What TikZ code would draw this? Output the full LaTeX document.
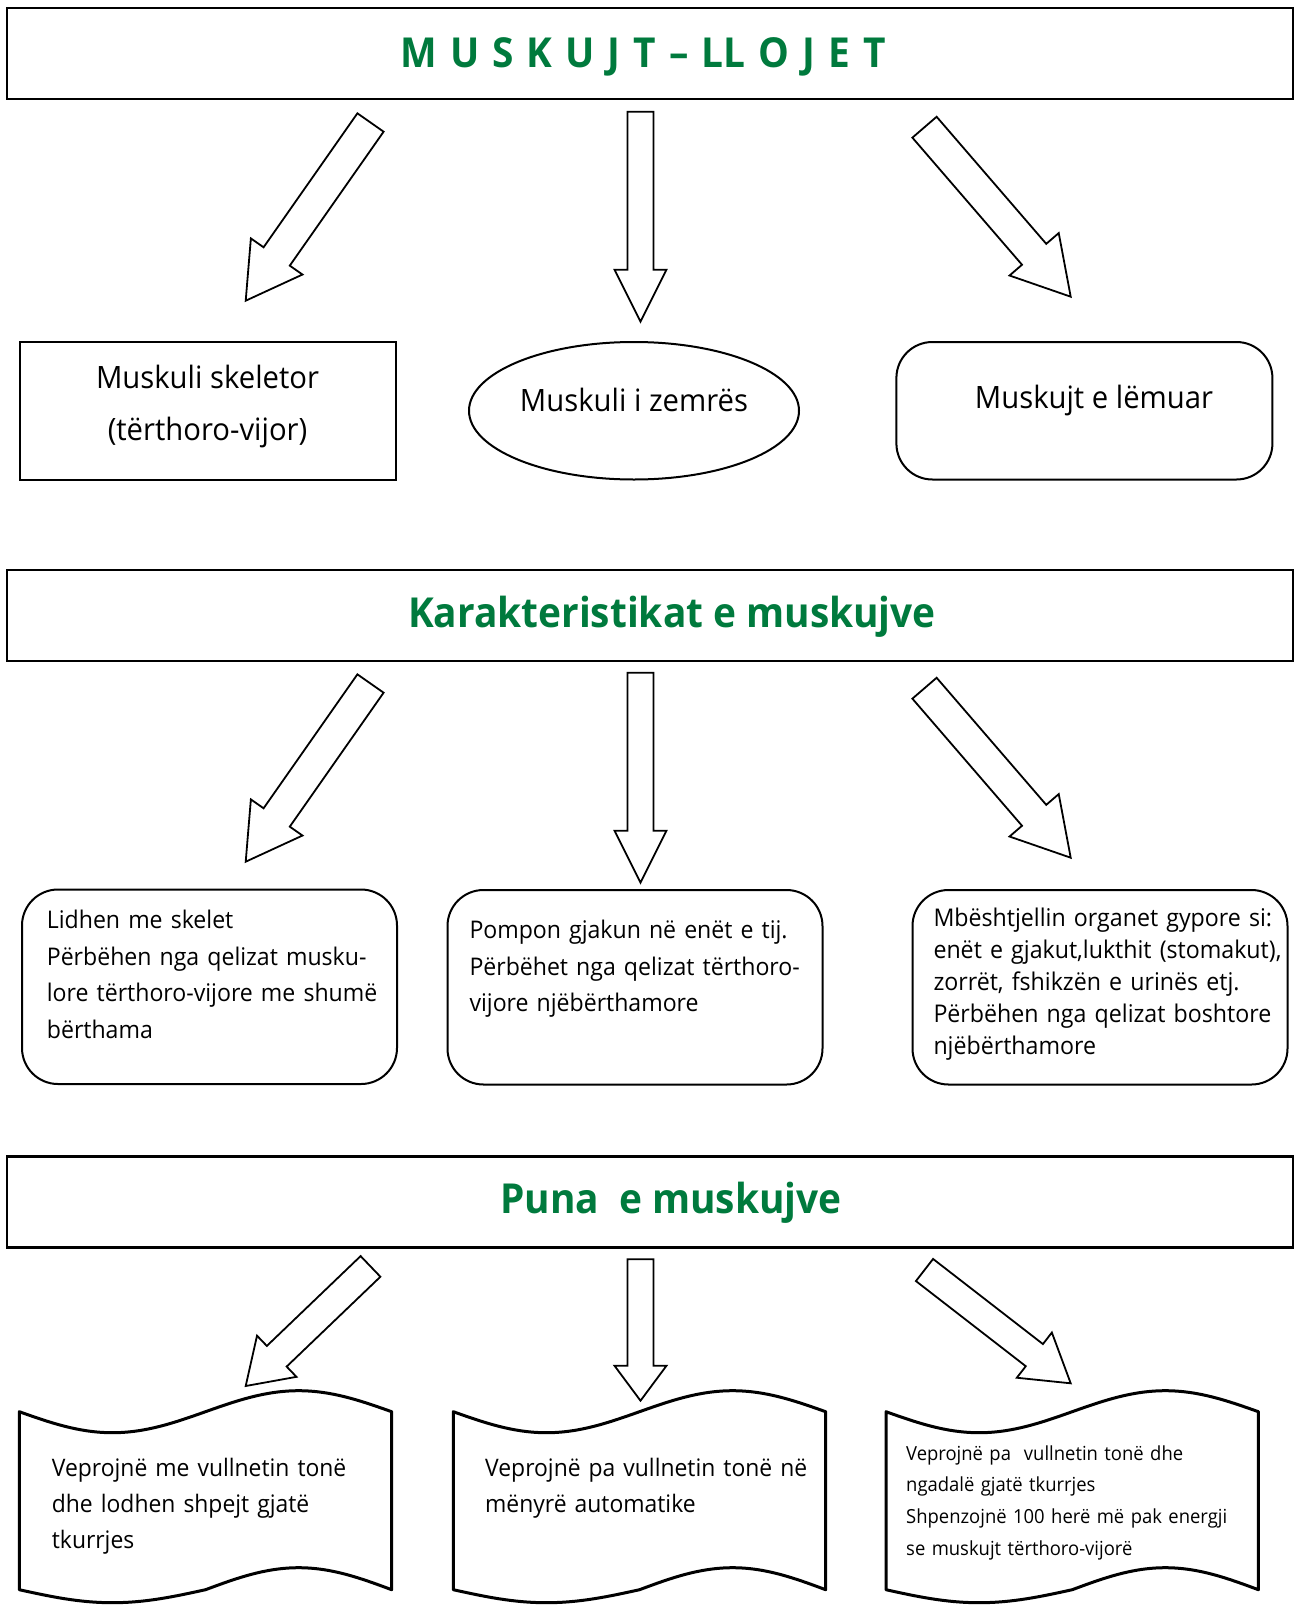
\documentclass[tikz,border=0pt]{standalone}
\usepackage{fontspec}
\setmainfont[FakeStretch=0.95]{Open Sans}
\newfontfamily\titlefont[FakeStretch=0.94]{Open Sans}
\usetikzlibrary{calc,shapes.geometric}
\definecolor{titlegreen}{RGB}{0,122,61}

% hollow block arrow: tail, tip, shaft half width, head half width, head length
\newcommand{\bigarrow}[5]{%
  \coordinate (hb) at ($(#2)!#5pt!(#1)$);
  \draw[blockarrow] ($(#1)!#3pt!90:(#2)$) -- ($(hb)!#3pt!-90:(#1)$) -- ($(hb)!#4pt!-90:(#1)$)
    -- (#2) -- ($(hb)!#4pt!90:(#1)$) -- ($(hb)!#3pt!90:(#1)$) -- ($(#1)!#3pt!-90:(#2)$) -- cycle;
}

\begin{document}
\begin{tikzpicture}[x=1pt,y=-1pt,line join=miter,
  header/.style={draw,line width=2.6pt,minimum width=1286pt,minimum height=91pt,inner sep=0pt},
  title/.style={anchor=base,inner sep=0pt,text=titlegreen,font=\titlefont\bfseries\fontsize{41.3}{48}\selectfont},
  blockarrow/.style={draw,line width=1.8pt,fill=white},
  kind/.style={draw,line width=2pt,minimum width=376pt,minimum height=137.5pt},
  kindtext/.style={align=center,inner sep=0pt,font=\fontsize{30.8}{52}\selectfont},
  infobox/.style={draw,line width=2pt,rounded corners=36pt,minimum width=375pt,minimum height=194.5pt,anchor=north west},
  infotext/.style={anchor=base west,align=left,inner sep=0pt,text width=#1,font=\fontsize{24.3}{36.7}\selectfont},
  infotext/.default=360pt,
  tape/.style={draw,line width=3pt,line join=round}]

\useasboundingbox (0,0) rectangle (1294,1606);

% the three headers
\node[header] (hdr1) at (650,53.5) {};
\node[header] (hdr2) at (650,615.5) {};
\node[header] (hdr3) at (650,1202) {};
\node[title] (t1) at (643,67) {\spaceskip=13pt M U S K U J T – LL O J E T};
\node[title] (t2) at (672,627) {Karakteristikat e muskujve};
\node[title] (t3) at (671,1213) {Puna\ \ e muskujve};

% arrow ends, first row
\coordinate (a1t) at (370.5,122.5);  \coordinate (a1h) at (245.7,300.7);
\coordinate (a2t) at (640.5,111.7);  \coordinate (a2h) at (640.5,321.7);
\coordinate (a3t) at (924.5,127.2);  \coordinate (a3h) at (1070.7,296.7);
% second row
\coordinate (b1t) at (370.5,683.5);  \coordinate (b1h) at (245.7,861.7);
\coordinate (b2t) at (640.5,672.7);  \coordinate (b2h) at (640.5,882.7);
\coordinate (b3t) at (924.5,688.2);  \coordinate (b3h) at (1070.7,857.7);
% third row
\coordinate (c1t) at (370.5,1266.4); \coordinate (c1h) at (245.7,1386);
\coordinate (c2t) at (640.5,1259.3); \coordinate (c2h) at (640.5,1400.7);
\coordinate (c3t) at (924.5,1270);   \coordinate (c3h) at (1070.7,1383.3);

\bigarrow{a1t}{a1h}{16}{31.5}{54}
\bigarrow{a2t}{a2h}{13}{26}{52}
\bigarrow{a3t}{a3h}{16}{32.5}{56}
\bigarrow{b1t}{b1h}{16}{31.5}{54}
\bigarrow{b2t}{b2h}{13}{26}{52}
\bigarrow{b3t}{b3h}{16}{32.5}{56}
\bigarrow{c1t}{c1h}{14.3}{28.5}{43}
\bigarrow{c2t}{c2h}{13}{26}{35}
\bigarrow{c3t}{c3h}{14}{28.6}{46}

% kinds of muscle
\node[kind] (skel) at (207.5,410.75) {};
\node[kind,ellipse,minimum width=330pt] (heart) at (634,410.75) {};
\node[kind,rounded corners=36pt] (smooth) at (1084.4,410.75) {};
\node[kindtext] (skelt) at (207.5,406) {Muskuli skeletor\\(tërthoro-vijor)};
\node[kindtext] (heartt) at (634,400) {Muskuli i zemrës};
\node[kindtext] (smootht) at (1094,400) {Muskujt e lëmuar};

% characteristics
\node[infobox] (k1) at (21,888.5) {};
\node[infobox] (k2) at (446.5,889) {};
\node[infobox] (k3) at (911.5,889) {};
\node[infotext] (k1t) at ($(k1.north west)+(25.7,39.8)$)
  {Lidhen me skelet\\Përbëhen nga qelizat musku-\\lore tërthoro-vijore me shumë\\bërthama};
\node[infotext] (k2t) at ($(k2.north west)+(22.8,49.3)$)
  {Pompon gjakun në enët e tij.\\Përbëhet nga qelizat tërthoro-\\vijore njëbërthamore};
\node[infotext,font=\fontsize{24.4}{32}\selectfont] (k3t) at ($(k3.north west)+(21.8,37.7)$)
  {Mbështjellin organet gypore si:\\enët e gjakut,lukthit (stomakut),\\zorrët, fshikzën e urinës etj.\\Përbëhen nga qelizat boshtore\\njëbërthamore};

% work of the muscles: wavy banners
\foreach \lx in {19.3,453.3,886}
  \draw[tape] (\lx,1411.7) sin ++(93.1,21) cos ++(93.1,-21) sin ++(93.1,-21) cos ++(93.1,21)
    -- ++(0,178) sin ++(-93.1,-22) cos ++(-93.1,22) sin ++(-93.1,13) cos ++(-93.1,-13) -- cycle;

\node[infotext,font=\fontsize{24.1}{36}\selectfont] (s1t) at (51.7,1476.7) {Veprojnë me vullnetin tonë\\dhe lodhen shpejt gjatë\\tkurrjes};
\node[infotext,font=\fontsize{24.1}{36}\selectfont] (s2t) at (485,1476.7) {Veprojnë pa vullnetin tonë në\\mënyrë automatike};
\node[infotext,font=\fontsize{19.4}{31.7}\selectfont] (s3t) at (906,1460)
  {Veprojnë pa\ \ vullnetin tonë dhe\\ngadalë gjatë tkurrjes\\Shpenzojnë 100 herë më pak energji\\se muskujt tërthoro-vijorë};

\end{tikzpicture}
\end{document}
